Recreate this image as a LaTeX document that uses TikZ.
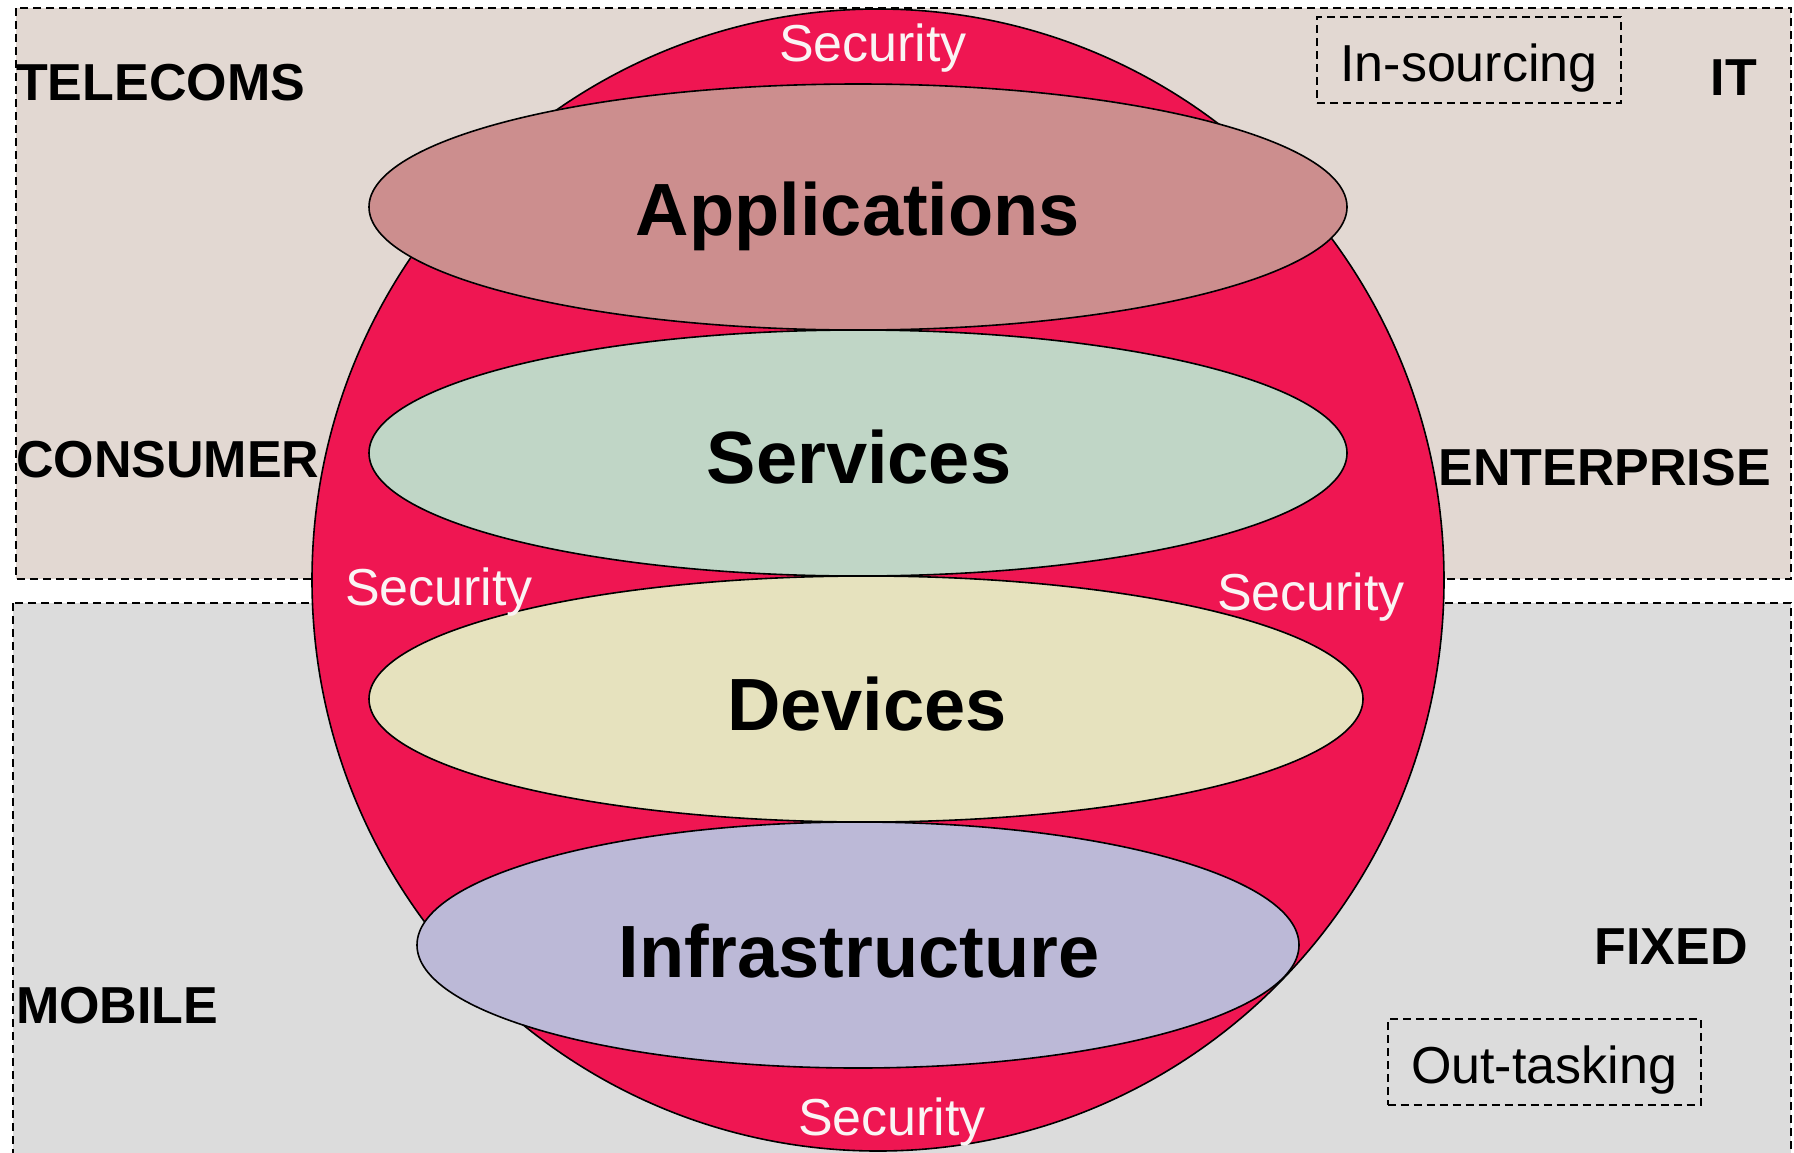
\documentclass[tikz,border=0pt]{standalone}
\usepackage{fontspec}
\setmainfont{Liberation Sans}
\usetikzlibrary{shapes.geometric}
\definecolor{secred}{HTML}{EF1652}
\definecolor{appfill}{HTML}{CC8E8E}
\definecolor{servfill}{HTML}{C0D6C6}
\definecolor{devfill}{HTML}{E6E2BE}
\definecolor{infrafill}{HTML}{BCB9D7}
\definecolor{topfill}{HTML}{E2D8D2}
\definecolor{botfill}{HTML}{DCDCDC}
\definecolor{secwhite}{HTML}{FAF4F4}
\begin{document}
\begin{tikzpicture}[x=1pt,y=-1pt,
  region/.style={draw=black, dash pattern=on 8pt off 5pt, line width=2pt},
  layer/.style={ellipse, draw=black, line width=1.6pt, inner sep=0pt,
    font=\fontsize{74}{80}\selectfont\bfseries},
  side/.style={inner sep=0pt, font=\fontsize{52}{60}\selectfont\bfseries},
  sec/.style={inner sep=0pt, text=secwhite, font=\fontsize{52}{60}\selectfont},
  tag/.style={draw=black, dash pattern=on 8pt off 5pt, line width=2pt,
    minimum height=86pt, inner sep=0pt, font=\fontsize{52}{60}\selectfont}]
\useasboundingbox (0,0) rectangle (1794,1152);
% regions
\path[region, fill=topfill] (16,8) rectangle (1791,579);
\path[region, fill=botfill] (13,603) rectangle (1791,1170);
% globe
\node[ellipse, draw=black, line width=1.6pt, fill=secred, inner sep=0pt,
  minimum width=1132pt, minimum height=1142pt] (globe) at (878,580) {};
% layers
\node[layer, fill=appfill, minimum width=978pt, minimum height=246pt] (app) at (858,207) {};
\node[layer, fill=servfill, minimum width=978pt, minimum height=246pt] (serv) at (858,453) {};
\node[layer, fill=devfill, minimum width=994pt, minimum height=246pt] (dev) at (866,699) {};
\node[layer, fill=infrafill, minimum width=882pt, minimum height=246pt] (infra) at (858,945) {};
\node[layer, draw=none] (apptext) at (858,216) {Applications};
\node[layer, draw=none] (servtext) at (859,457) {Services};
\node[layer, draw=none] (devtext) at (867,704) {Devices};
\node[layer, draw=none] (infratext) at (859,951) {Infrastructure};
% security labels
\node[sec] (sectop) at (873,48) {Security};
\node[sec] (secleft) at (439,592) {Security};
\node[sec] (secright) at (1311,597) {Security};
\node[sec] (secbot) at (892,1122) {Security};
% side labels
\node[side, anchor=west] (telecoms) at (16,83) {TELECOMS};
\node[side, anchor=west] (consumer) at (16,460) {CONSUMER};
\node[side, anchor=east] (it) at (1757,78) {IT};
\node[side, anchor=east] (enterprise) at (1771,468) {ENTERPRISE};
\node[side, anchor=west] (mobile) at (16,1006) {MOBILE};
\node[side, anchor=east] (fixed) at (1748,947) {FIXED};
% tags
\node[tag, minimum width=304pt] (insourcing) at (1469,60) {};
\node[tag, minimum width=313pt] (outtasking) at (1544,1062) {};
\node[inner sep=0pt, font=\fontsize{52}{60}\selectfont] (intext) at (1469,68) {In-sourcing};
\node[inner sep=0pt, font=\fontsize{52}{60}\selectfont] (outtext) at (1544,1070) {Out-tasking};
\end{tikzpicture}
\end{document}
